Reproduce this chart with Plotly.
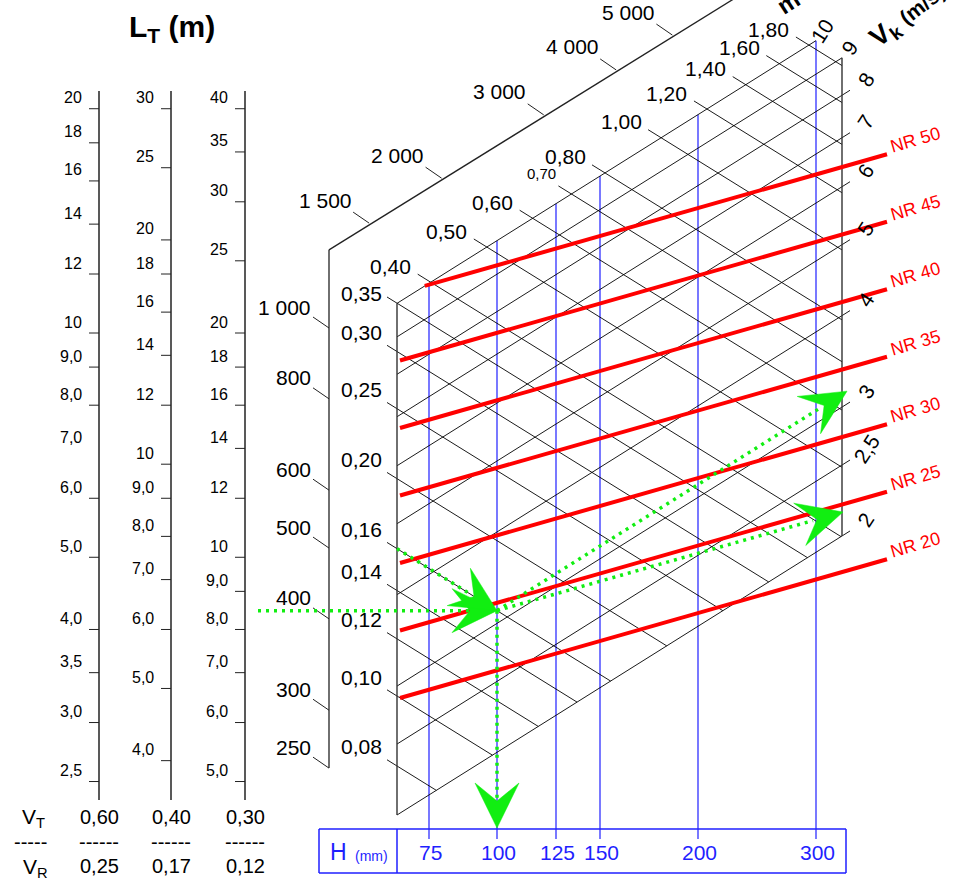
import numpy as np
import plotly.graph_objects as go

# ---------------- data ----------------
LT1_VALUES = [20, 18, 16, 14, 12, 10, 9, 8, 7, 6, 5, 4, 3.5, 3, 2.5]
LT1_UNTICKED = [7]
LT2_VALUES = [30, 25, 20, 18, 16, 14, 12, 10, 9, 8, 7, 6, 5, 4]
LT3_VALUES = [40, 35, 30, 25, 20, 18, 16, 14, 12, 10, 9, 8, 7, 6, 5]
VT_VALUES = [0.60, 0.40, 0.30]
VR_VALUES = [0.25, 0.17, 0.12]

Q_VERT_VALUES = [1000, 800, 600, 500, 400, 300, 250]
Q_DIAG_VALUES = [1500, 2000, 3000, 4000, 5000]
D_VALUES = [0.08, 0.10, 0.12, 0.14, 0.16, 0.20, 0.25, 0.30, 0.35,
            0.40, 0.50, 0.60, 0.70, 0.80, 1.00, 1.20, 1.40, 1.60, 1.80]
V_VALUES = [2, 2.5, 3, 4, 5, 6, 7, 8, 9, 10]
NR_VALUES = [20, 25, 30, 35, 40, 45, 50]
H_VALUES = [75, 100, 125, 150, 200, 300]
EXAMPLE_D = 0.16
EXAMPLE_H = 100

FONT = "Liberation Sans, Arial, sans-serif"
BLUE = "#1f1fff"
GREEN = "#11ee11"
RED = "#ff0000"
W, H = 961, 884


def comma(v, nd):
    return f"{v:.{nd}f}".replace(".", ",")


def lt_label(v):
    return str(int(v)) if v >= 10 else comma(v, 1)


def q_label(q):
    return f"{q:,}".replace(",", " ")


def v_label(v):
    return str(int(v)) if float(v).is_integer() else comma(v, 1)


# ---------------- nomogram scales ----------------
LT_X = [99, 171, 245]
LT_PX_DEC = 745.0


def lt_y(L, vt):
    return 333 - LT_PX_DEC * np.log10(L / 10) + LT_PX_DEC * np.log10(VT_VALUES[0] / vt)


Q_AXIS_X = 329


def q_point(q):
    xd = 267 + 580 * np.log10(q / 1000)
    if xd <= Q_AXIS_X:
        return Q_AXIS_X, 328 - 731 * np.log10(q / 1000)
    return xd, 248 - 0.62 * (xd - Q_AXIS_X)


GX0, GX1 = 397, 842
SD, SV, SNR = 0.62, -0.627, -0.285


def d_y0(d):
    return 696 - 722 * np.log10(d / 0.1)


def v_y0(v):
    return 815 - 732 * np.log10(v / 2)


def d_line_y(d, x):
    return d_y0(d) + SD * (x - GX0)


def v_line_y(v, x):
    return v_y0(v) + SV * (x - GX0)


def dv_x(d, v):
    return GX0 + (v_y0(v) - d_y0(d)) / (SD - SV)


H_CAL_VAL = [75, 100, 125, 150, 200, 300]
H_CAL_PIX = [429, 497, 556, 600, 698, 816]


def h_x(h):
    return float(np.interp(h, H_CAL_VAL, H_CAL_PIX))


def nr_y(nr, x):
    return 698 - 13.5 * (nr - 20) + SNR * (x - 400)


# ---------------- build ----------------
fig = go.Figure()
ann = []


def seg_trace(segs, color, width, dash=None):
    xs, ys = [], []
    for (x0, y0, x1, y1) in segs:
        xs += [x0, x1, None]
        ys += [y0, y1, None]
    line = dict(color=color, width=width)
    if dash:
        line["dash"] = dash
    fig.add_trace(go.Scatter(x=xs, y=ys, mode="lines", line=line,
                             hoverinfo="skip", showlegend=False))


def text(x, y, s, size, color="black", xa="center", ya="middle", angle=0, bold=False, paper=False):
    d = dict(text=(f"<b>{s}</b>" if bold else s),
             showarrow=False, xanchor=xa, yanchor=ya, textangle=angle,
             font=dict(family=FONT, size=size, color=color))
    if paper:
        d.update(x=x / W, y=1 - y / H, xref="paper", yref="paper")
    else:
        d.update(x=x, y=y, xref="x", yref="y")
    ann.append(d)


# --- L_T scales ---
axis_segs, tick_segs = [], []
for col, (vals, vt, vr) in enumerate(zip([LT1_VALUES, LT2_VALUES, LT3_VALUES], VT_VALUES, VR_VALUES)):
    x = LT_X[col]
    axis_segs.append((x, 91, x, 800))
    for v in vals:
        y = lt_y(v, vt)
        if not (col == 0 and v in LT1_UNTICKED):
            tick_segs.append((x - 10, y, x, y))
        text(x - 15, y - 11, lt_label(v), 16, xa="right")
    text(x, 817, comma(vt, 2), 20)
    text(x, 842, "------", 20)
    text(x, 866, comma(vr, 2), 20)
seg_trace(axis_segs, "#222", 1.5)
seg_trace(tick_segs, "#222", 1)
text(172, 28, "L<sub>T</sub> (m)", 30, bold=True)
text(33, 818, "V<sub>T</sub>", 21)
text(30, 842, "-----", 20)
text(35, 868, "V<sub>R</sub>", 21)

# --- Q axis (vertical + oblique part) ---
qx0, qy0 = q_point(250)
cy = 328 - 731 * np.log10(10 ** ((Q_AXIS_X - 267) / 580))
top_x = Q_AXIS_X + (cy + 40) / 0.62
seg_trace([(qx0, qy0, Q_AXIS_X, cy), (Q_AXIS_X, cy, top_x, -40)], "#222", 1.3)
q_ticks = []
for q in Q_VERT_VALUES:
    px, py = q_point(q)
    q_ticks.append((px - 16, py - 11, px, py))
    text(313, py - 21, q_label(q), 21, xa="right")
for q in Q_DIAG_VALUES:
    px, py = q_point(q)
    q_ticks.append((px - 16, py - 11, px, py))
    text(px - 44, py - 23, q_label(q), 21)
seg_trace(q_ticks, "#222", 1)
text(800, -6, "m³/h", 24, angle=-33, bold=True, paper=True)

# --- H (blue) lines ---
blue_segs = [(h_x(h), v_line_y(10, h_x(h)), h_x(h), 839) for h in H_VALUES]
seg_trace(blue_segs, BLUE, 1.2)

# --- black oblique grid ---
grid = []
for d in D_VALUES:
    if d_y0(d) >= v_y0(10) - 0.5:
        xs_ = GX0 - 10
    else:
        xs_ = dv_x(d, 10) - 13
    xe = min(dv_x(d, 2), GX1)
    grid.append((xs_, d_line_y(d, xs_), xe, d_line_y(d, xe)))
for v in V_VALUES:
    xe = 850 if v < 9 else (842 if v == 9 else 816)
    grid.append((GX0, v_y0(v), xe, v_line_y(v, xe)))
seg_trace(grid, "black", 0.9)
seg_trace([(GX0, v_y0(10), GX0, v_y0(2)),
           (GX1, v_line_y(9, GX1), GX1, v_line_y(2, GX1))], "#333", 1.4)

# d labels
for d in D_VALUES:
    if d_y0(d) >= v_y0(10) - 0.5:
        off = 10 if d >= 0.35 else 19
        text(384, d_y0(d) - off, comma(d, 2), 21, xa="right")
    else:
        xi = dv_x(d, 10)
        yi = v_line_y(10, xi)
        if abs(d - 0.70) < 1e-9:
            text(xi - 30, yi - 20, comma(d, 2), 15)
        else:
            text(xi - 40, yi - 16, comma(d, 2), 21)

# v labels
for v in V_VALUES:
    if v < 9:
        text(866, v_line_y(v, 850) - 11, v_label(v), 21, angle=-57)
    elif v == 9:
        text(850, v_line_y(v, 842) - 10, v_label(v), 21, angle=-57)
    else:
        text(822, v_line_y(v, 816) - 9, v_label(v), 21, angle=-57)
text(908, 16, "V<sub>k</sub> <span style='font-size:21px'>(m/s)</span>", 27,
     angle=-38, bold=True, paper=True)

# --- NR (red) lines ---
red = []
for nr in NR_VALUES:
    y400 = nr_y(nr, 400)
    x_int = (v_y0(10) + 0.627 * GX0 - y400 - 0.285 * 400) / (0.627 - 0.285)
    xs_ = max(400, x_int)
    red.append((xs_, nr_y(nr, xs_), 887, nr_y(nr, 887)))
    text(915, nr_y(nr, 887) - 14, f"NR {nr}", 18, color=RED, angle=-16)
seg_trace(red, RED, 4)

# --- H box ---
seg_trace([(319, 829, 846, 829), (846, 829, 846, 873), (846, 873, 319, 873),
           (319, 873, 319, 829), (397, 829, 397, 873)], BLUE, 1.5)
text(338, 852, "H", 23, color=BLUE)
text(371, 856, "(mm)", 14, color=BLUE)
for h in H_VALUES:
    text(h_x(h) + 1, 852, str(h), 21, color=BLUE)

# --- green worked example ---
ex_x = h_x(EXAMPLE_H)
ex_y = d_line_y(EXAMPLE_D, ex_x)
green = [
    (258, ex_y, ex_x - 28, ex_y),
    (GX0, d_y0(EXAMPLE_D), ex_x - 26, d_line_y(EXAMPLE_D, ex_x - 26)),
    (ex_x, ex_y, ex_x, 800),
    (ex_x, ex_y, 818, ex_y + SV * (818 - ex_x)),
    (ex_x, ex_y, 813, ex_y + SNR * (813 - ex_x)),
]
seg_trace(green, GREEN, 3.5, dash="3px,5px")


def arrow(tx, ty, ux, uy, L=45, Wd=22, N=27):
    n = np.hypot(ux, uy)
    ux, uy = ux / n, uy / n
    nx, ny = -uy, ux
    bx, by = tx - L * ux, ty - L * uy
    xs = [tx, bx + Wd * nx, tx - N * ux, bx - Wd * nx, tx]
    ys = [ty, by + Wd * ny, ty - N * uy, by - Wd * ny, ty]
    fig.add_trace(go.Scatter(x=xs, y=ys, mode="lines", fill="toself", fillcolor=GREEN,
                             line=dict(color=GREEN, width=0.5), hoverinfo="skip",
                             showlegend=False))


arrow(ex_x, ex_y, 1, 0)
arrow(ex_x, ex_y, 1, SD)
arrow(ex_x, 828, 0, 1)
arrow(847, ex_y + SV * (847 - ex_x), 1, SV)
arrow(843, ex_y + SNR * (843 - ex_x), 1, SNR)

fig.update_layout(
    width=W, height=H, margin=dict(l=0, r=0, t=0, b=0),
    xaxis=dict(range=[0, W], visible=False, fixedrange=True),
    yaxis=dict(range=[H, 0], visible=False, fixedrange=True),
    plot_bgcolor="white", paper_bgcolor="white", showlegend=False,
    annotations=ann,
)
fig.write_html("out.html", config={"displayModeBar": False},
               post_script="document.body.style.margin='0px';document.body.style.overflow='hidden';")
